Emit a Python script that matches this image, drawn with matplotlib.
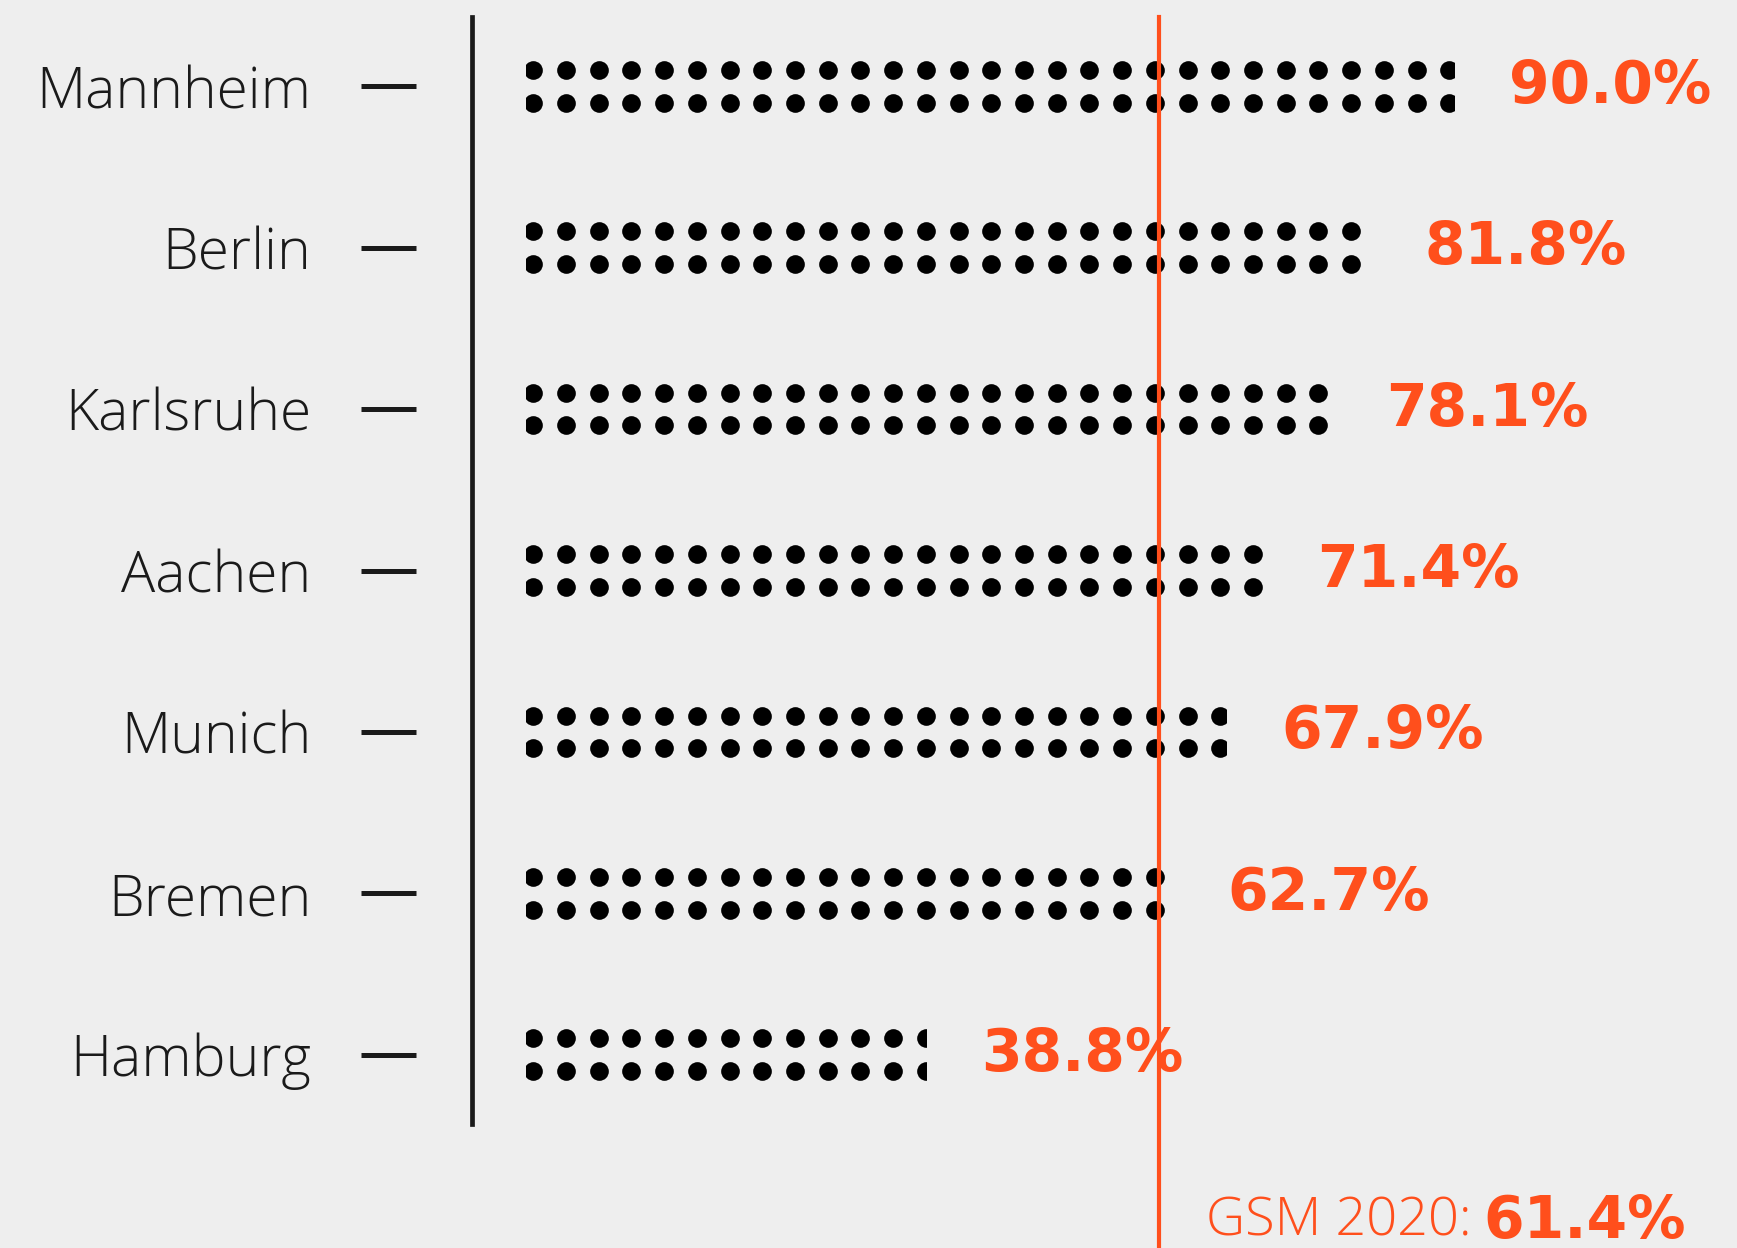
import matplotlib.pyplot as plt
import numpy as np

# data
cities = ["Mannheim", "Berlin", "Karlsruhe", "Aachen", "Munich", "Bremen", "Hamburg"]
shares = [90.0, 81.8, 78.1, 71.4, 67.9, 62.7, 38.8]
gsm_label = "GSM 2020:"
gsm_share = 61.4

orange = "#ff4f1c"
ink = "#1a1a1a"
bg = "#eeeeee"

# dot grid style (in % units / row units)
dot_step = 3.175
dot_first = 0.67
dot_r = 0.91
row_off = 0.101

fig = plt.figure(figsize=(17.37, 12.48), dpi=100, facecolor=bg)
left = 471.7 / 1737
ax = fig.add_axes([left, 0, 1 - left, 1])
ax.set_facecolor(bg)
ax.set_xlim(-5.31, 117.5)
ax.set_ylim(7.198, -0.535)

for i, v in enumerate(shares):
    xs = np.arange(dot_first, v + dot_r, dot_step)
    xx = np.concatenate([xs, xs])
    yy = np.concatenate([np.full(len(xs), i - row_off), np.full(len(xs), i + row_off)])
    sc = ax.scatter(xx, yy, s=181, color="black", linewidths=0, zorder=2)
    clip = plt.Rectangle((0, i - 0.3), v, 0.6, transform=ax.transData)
    sc.set_clip_path(clip)
    ax.annotate(f"{v:.1f}%", xy=(v, i), xytext=(39.6, 0), textcoords="offset points",
                ha="left", va="center", fontsize=42, fontweight="bold",
                family="DejaVu Sans", color=orange)

# average line
ax.axvline(gsm_share, ymin=0, ymax=(7.198 + 0.43) / (7.198 + 0.535), color=orange,
           lw=3.0, zorder=3)
t1 = ax.annotate(gsm_label, xy=(gsm_share, 0), xycoords=("data", "axes fraction"),
                 xytext=(34, 9), textcoords="offset points", ha="left", va="baseline",
                 fontsize=39, family="Open Sans", fontweight="light", color=orange)
ax.annotate(f"{gsm_share:.1f}%", xy=(1, 0), xycoords=t1, xytext=(8, -1),
            textcoords="offset points", ha="left", va="bottom", fontsize=42,
            fontweight="bold", family="DejaVu Sans", color=orange)

# axis line
for s in ["top", "right", "bottom"]:
    ax.spines[s].set_visible(False)
ax.spines["left"].set_color(ink)
ax.spines["left"].set_linewidth(3.4)
ax.spines["left"].set_bounds(-0.43, 6.43)
ax.set_xticks([])
ax.set_yticks([])

# city labels with dash ticks
sec = ax.secondary_yaxis(-0.044)
sec.set_yticks(range(len(cities)), labels=cities)
sec.spines["left"].set_visible(False)
sec.tick_params(length=39.6, width=3.6, pad=36, color=ink, labelsize=41, labelcolor=ink)
for lab in sec.get_yticklabels():
    lab.set_fontfamily("Open Sans")
    lab.set_fontweight("light")

fig.savefig("out.png", dpi=100, facecolor=bg)
